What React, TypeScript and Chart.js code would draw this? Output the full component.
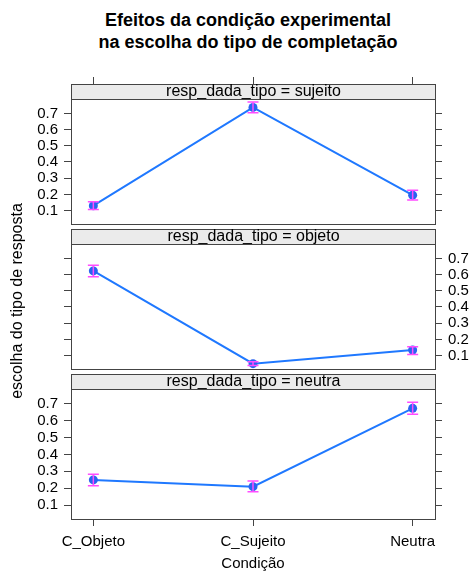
import React, { useEffect, useRef } from 'react';
import { Chart, registerables } from 'chart.js';

Chart.register(...registerables);

const FONT = '"Liberation Sans", Arial, Helvetica, sans-serif';

const titleLines = ['Efeitos da condição experimental', 'na escolha do tipo de completação'];
const xTitle = 'Condição';
const yTitle = 'escolha do tipo de resposta';
const stripPrefix = 'resp_dada_tipo = ';

const conditions = ['C_Objeto', 'C_Sujeito', 'Neutra'];
const conditionPositions = [1, 2, 3];
const yTickValues = [0.1, 0.2, 0.3, 0.4, 0.5, 0.6, 0.7];

const sujeitoFit = [0.13, 0.737, 0.195];
const sujeitoLower = [0.106, 0.704, 0.165];
const sujeitoUpper = [0.155, 0.771, 0.225];

const objetoFit = [0.623, 0.05, 0.134];
const objetoLower = [0.587, 0.038, 0.106];
const objetoUpper = [0.658, 0.062, 0.155];

const neutraFit = [0.249, 0.209, 0.674];
const neutraLower = [0.215, 0.179, 0.639];
const neutraUpper = [0.283, 0.243, 0.71];

const X_MIN = 0.86;
const X_MAX = 3.14;
const Y_MIN = 0.017;
const Y_MAX = 0.789;

const LINE = '#1f78ff';
const POINT = '#2a63f0';
const ERR = '#ff4cff';
const AXIS = '#444444';
const STRIP_BG = '#ebebeb';

type XMode = 'top' | 'none' | 'bottom';

interface PanelProps {
  name: string;
  fit: number[];
  lower: number[];
  upper: number[];
  top: number;
  height: number;
  padTop: number;
  padBottom: number;
  labelSide: 'left' | 'right';
  xMode: XMode;
}

function Panel(props: PanelProps) {
  const ref = useRef<HTMLCanvasElement | null>(null);
  useEffect(() => {
    const canvas = ref.current;
    if (!canvas) return;
    const { name, fit, lower, upper, padTop, padBottom, labelSide, xMode } = props;

    const decor = {
      id: 'panelDecor',
      afterDatasetsDraw(chart: any) {
        const ctx = chart.ctx;
        const xs = chart.scales.x;
        const ys = chart.scales.y;
        ctx.save();
        ctx.strokeStyle = ERR;
        ctx.lineWidth = 1.5;
        conditionPositions.forEach((xv, i) => {
          const px = xs.getPixelForValue(xv);
          const y1 = ys.getPixelForValue(lower[i]);
          const y2 = ys.getPixelForValue(upper[i]);
          ctx.beginPath();
          ctx.moveTo(px, y1);
          ctx.lineTo(px, y2);
          ctx.moveTo(px - 5.5, y1);
          ctx.lineTo(px + 5.5, y1);
          ctx.moveTo(px - 5.5, y2);
          ctx.lineTo(px + 5.5, y2);
          ctx.stroke();
        });
        ctx.restore();
      },
      afterDraw(chart: any) {
        const ctx = chart.ctx;
        const a = chart.chartArea;
        const l = Math.round(a.left) + 0.5;
        const r = Math.round(a.right) + 0.5;
        const t = Math.round(a.top) + 0.5;
        const b = Math.round(a.bottom) + 0.5;
        ctx.save();
        ctx.fillStyle = STRIP_BG;
        ctx.fillRect(l, t - 15, r - l, 15);
        ctx.strokeStyle = AXIS;
        ctx.lineWidth = 1;
        ctx.strokeRect(l, t - 15, r - l, 15);
        ctx.fillStyle = '#000';
        ctx.font = `16px ${FONT}`;
        ctx.textAlign = 'center';
        ctx.textBaseline = 'alphabetic';
        ctx.fillText(stripPrefix + name, (l + r) / 2, t - 4);
        ctx.strokeRect(l, t, r - l, b - t);
        ctx.restore();
      },
    };

    const yAxis = (side: 'left' | 'right') => ({
      type: 'linear' as const,
      position: side,
      min: Y_MIN,
      max: Y_MAX,
      afterBuildTicks: (s: any) => {
        s.ticks = yTickValues.map((v) => ({ value: v }));
      },
      afterFit: (s: any) => {
        s.width = side === 'left' ? 71 : 36;
      },
      grid: { drawOnChartArea: false, drawTicks: true, tickLength: 7, color: AXIS, lineWidth: 1 },
      border: { display: false },
      ticks: {
        display: labelSide === side,
        autoSkip: false,
        padding: 6,
        color: '#000',
        font: { family: FONT, size: 15 },
        callback: (v: any) => Number(v).toFixed(1),
      },
    });

    const chart = new Chart(canvas, {
      type: 'line',
      data: {
        datasets: [
          {
            data: conditionPositions.map((x, i) => ({ x, y: fit[i] })),
            borderColor: LINE,
            borderWidth: 2,
            pointRadius: 4.5,
            pointBackgroundColor: POINT,
            pointBorderColor: POINT,
            pointBorderWidth: 0,
            tension: 0,
            clip: false as any,
            yAxisID: 'y',
            xAxisID: 'x',
          },
        ],
      },
      options: {
        responsive: false,
        animation: false,
        events: [],
        layout: { padding: { top: padTop, bottom: padBottom, left: 0, right: 0 } },
        plugins: { legend: { display: false }, tooltip: { enabled: false }, title: { display: false } },
        scales: {
          x: {
            type: 'linear',
            min: X_MIN,
            max: X_MAX,
            position: xMode === 'top' ? 'top' : 'bottom',
            display: xMode !== 'none',
            afterBuildTicks: (s: any) => {
              s.ticks = conditionPositions.map((v) => ({ value: v }));
            },
            afterFit: (s: any) => {
              s.height = xMode === 'top' ? 22 : xMode === 'bottom' ? 30 : 0;
            },
            grid: { drawOnChartArea: false, drawTicks: true, tickLength: xMode === 'top' ? 22 : 7, color: AXIS, lineWidth: 1 },
            border: { display: false },
            ticks: {
              display: xMode === 'bottom',
              padding: 7,
              color: '#000',
              autoSkip: false,
              maxRotation: 0,
              font: { family: FONT, size: 15 },
              callback: (_v: any, i: number) => conditions[i],
            },
          },
          y: yAxis('left'),
          y2: yAxis('right'),
        },
      } as any,
      plugins: [decor],
    });
    return () => chart.destroy();
  }, []);
  return (
    <canvas
      ref={ref}
      width={471}
      height={props.height}
      style={{ position: 'absolute', left: 0, top: props.top, width: 471, height: props.height }}
    />
  );
}

export default function App() {
  return (
    <div style={{ position: 'fixed', left: 0, top: 0, width: 471, height: 572, background: '#fff', fontFamily: FONT, overflow: 'hidden' }}>
      <div style={{ position: 'absolute', left: 0, top: 9, width: 496, textAlign: 'center', fontWeight: 'bold', fontSize: 18, lineHeight: '22px', color: '#000' }}>
        {titleLines.map((t) => (
          <div key={t}>{t}</div>
        ))}
      </div>
      <Panel name="sujeito" fit={sujeitoFit} lower={sujeitoLower} upper={sujeitoUpper} top={70} height={169} padTop={7} padBottom={10} labelSide="left" xMode="top" />
      <Panel name="objeto" fit={objetoFit} lower={objetoLower} upper={objetoUpper} top={219} height={165} padTop={25} padBottom={10} labelSide="right" xMode="none" />
      <Panel name="neutra" fit={neutraFit} lower={neutraLower} upper={neutraUpper} top={364} height={185} padTop={25} padBottom={0} labelSide="left" xMode="bottom" />
      <div style={{ position: 'absolute', left: 17, top: 301, width: 0, height: 0 }}>
        <div style={{ position: 'absolute', left: -150, top: -9, width: 300, textAlign: 'center', fontSize: 16, lineHeight: '18px', transform: 'rotate(-90deg)', color: '#000', whiteSpace: 'nowrap' }}>
          {yTitle}
        </div>
      </div>
      <div style={{ position: 'absolute', left: 153, top: 554, width: 200, textAlign: 'center', fontSize: 15, lineHeight: '18px', color: '#000' }}>
        {xTitle}
      </div>
    </div>
  );
}
